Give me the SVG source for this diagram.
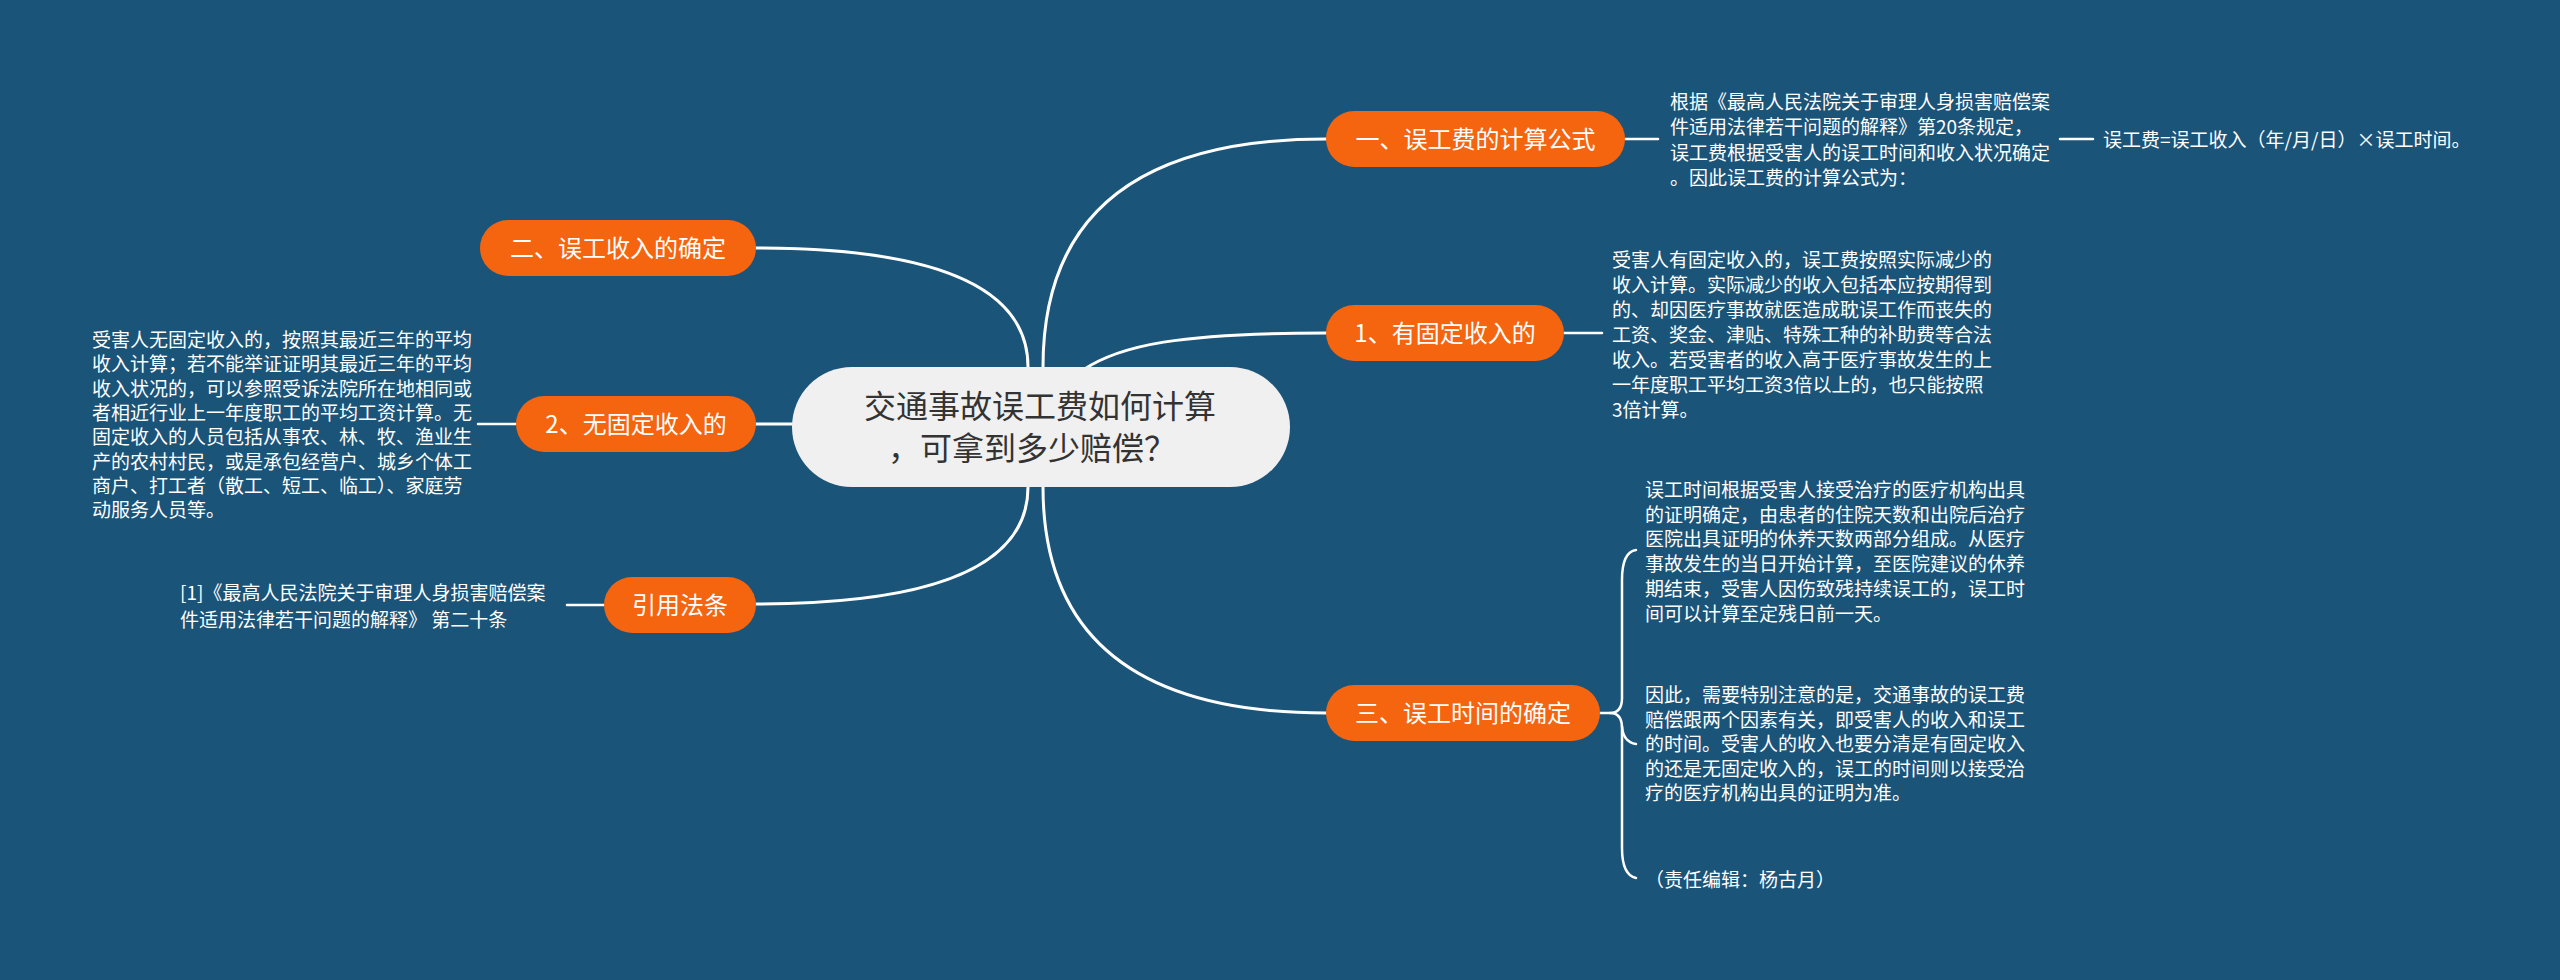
<svg xmlns="http://www.w3.org/2000/svg" width="2560" height="980" viewBox="0 0 2560 980">
<style>
text{font-family:"Noto Sans CJK SC","Noto Sans",sans-serif;}
.main{fill:#f5640e;}
.mt{fill:#ffffff;font-size:24px;text-anchor:middle;}
.leaf{fill:#ffffff;font-size:19px;}
.c{fill:none;stroke:#ffffff;stroke-width:3;stroke-linecap:round;}
.l{fill:none;stroke:#ffffff;stroke-width:2.5;stroke-linecap:round;}
</style>
<rect width="2560" height="980" fill="#1b5479"/>
<g id="connectors">
<path class="c" d="M1043,367 Q1043,139 1326,139"/>
<path class="c" d="M1083,370 C1120,345 1180,333 1326,333"/>
<path class="c" d="M1028,367 Q1028,248 756,248"/>
<path class="c" d="M792,424 H756"/>
<path class="c" d="M1028,487 Q1028,604 756,604"/>
<path class="c" d="M1043,487 Q1043,713 1326,713"/>
<path class="l" d="M1625,139 H1658"/>
<path class="l" d="M2060,139 H2093"/>
<path class="l" d="M1564,333 H1602"/>
<path class="l" d="M516,424 H478"/>
<path class="l" d="M604,605 H567"/>
<path class="l" d="M1600,713 H1610 Q1622,713 1622,698 V580 Q1622,552 1636,550"/>
<path class="l" d="M1610,713 Q1622,713 1622,728 V848 Q1622,875 1636,878"/>
<path class="l" d="M1622,726 Q1623,742 1636,744"/>
</g>
<g id="center">
<rect x="792" y="367" width="498" height="120" rx="60" fill="#f0f0f0"/>
<text x="1040" y="418" font-size="32" fill="#333333" text-anchor="middle">交通事故误工费如何计算</text>
<text x="1032" y="460" font-size="32" fill="#333333" text-anchor="middle">，可拿到多少赔偿？</text>
</g>
<g id="node-formula">
<rect class="main" x="1326" y="111" width="299" height="56" rx="28"/>
<text class="mt" x="1475.5" y="148">一、误工费的计算公式</text>
</g>
<g id="leaf-formula-basis">
<text class="leaf" x="1670" y="108.5">根据《最高人民法院关于审理人身损害赔偿案</text>
<text class="leaf" x="1670" y="134">件适用法律若干问题的解释》第20条规定，</text>
<text class="leaf" x="1670" y="159.5">误工费根据受害人的误工时间和收入状况确定</text>
<text class="leaf" x="1670" y="185">。因此误工费的计算公式为：</text>
</g>
<g id="leaf-formula">
<text class="leaf" x="2103" y="147">误工费=误工收入（年/月/日）×误工时间。</text>
</g>
<g id="node-fixed">
<rect class="main" x="1326" y="305" width="238" height="56" rx="28"/>
<text class="mt" x="1445" y="342">1、有固定收入的</text>
</g>
<g id="leaf-fixed">
<text class="leaf" x="1612" y="267">受害人有固定收入的，误工费按照实际减少的</text>
<text class="leaf" x="1612" y="292">收入计算。实际减少的收入包括本应按期得到</text>
<text class="leaf" x="1612" y="317">的、却因医疗事故就医造成耽误工作而丧失的</text>
<text class="leaf" x="1612" y="342">工资、奖金、津贴、特殊工种的补助费等合法</text>
<text class="leaf" x="1612" y="367">收入。若受害者的收入高于医疗事故发生的上</text>
<text class="leaf" x="1612" y="392">一年度职工平均工资3倍以上的，也只能按照</text>
<text class="leaf" x="1612" y="417">3倍计算。</text>
</g>
<g id="node-time">
<rect class="main" x="1326" y="685" width="274" height="56" rx="28"/>
<text class="mt" x="1463" y="722">三、误工时间的确定</text>
</g>
<g id="leaf-time-1">
<text class="leaf" x="1645" y="497">误工时间根据受害人接受治疗的医疗机构出具</text>
<text class="leaf" x="1645" y="521.7">的证明确定，由患者的住院天数和出院后治疗</text>
<text class="leaf" x="1645" y="546.4">医院出具证明的休养天数两部分组成。从医疗</text>
<text class="leaf" x="1645" y="571.1">事故发生的当日开始计算，至医院建议的休养</text>
<text class="leaf" x="1645" y="595.8">期结束，受害人因伤致残持续误工的，误工时</text>
<text class="leaf" x="1645" y="620.5">间可以计算至定残日前一天。</text>
</g>
<g id="leaf-time-2">
<text class="leaf" x="1645" y="702">因此，需要特别注意的是，交通事故的误工费</text>
<text class="leaf" x="1645" y="726.5">赔偿跟两个因素有关，即受害人的收入和误工</text>
<text class="leaf" x="1645" y="751">的时间。受害人的收入也要分清是有固定收入</text>
<text class="leaf" x="1645" y="775.5">的还是无固定收入的，误工的时间则以接受治</text>
<text class="leaf" x="1645" y="800">疗的医疗机构出具的证明为准。</text>
</g>
<g id="leaf-editor">
<text class="leaf" x="1645" y="887">（责任编辑：杨古月）</text>
</g>
<g id="node-income">
<rect class="main" x="480" y="220" width="276" height="56" rx="28"/>
<text class="mt" x="618" y="257">二、误工收入的确定</text>
</g>
<g id="node-nofixed">
<rect class="main" x="516" y="396" width="240" height="56" rx="28"/>
<text class="mt" x="636" y="433">2、无固定收入的</text>
</g>
<g id="leaf-nofixed">
<text class="leaf" x="92" y="347">受害人无固定收入的，按照其最近三年的平均</text>
<text class="leaf" x="92" y="371.3">收入计算；若不能举证证明其最近三年的平均</text>
<text class="leaf" x="92" y="395.6">收入状况的，可以参照受诉法院所在地相同或</text>
<text class="leaf" x="92" y="419.9">者相近行业上一年度职工的平均工资计算。无</text>
<text class="leaf" x="92" y="444.2">固定收入的人员包括从事农、林、牧、渔业生</text>
<text class="leaf" x="92" y="468.5">产的农村村民，或是承包经营户、城乡个体工</text>
<text class="leaf" x="92" y="492.8">商户、打工者（散工、短工、临工）、家庭劳</text>
<text class="leaf" x="92" y="517.1">动服务人员等。</text>
</g>
<g id="node-law">
<rect class="main" x="604" y="577" width="152" height="56" rx="28"/>
<text class="mt" x="680" y="614">引用法条</text>
</g>
<g id="leaf-law">
<text class="leaf" x="180" y="600">[1]《最高人民法院关于审理人身损害赔偿案</text>
<text class="leaf" x="180" y="627">件适用法律若干问题的解释》 第二十条</text>
</g>
</svg>
